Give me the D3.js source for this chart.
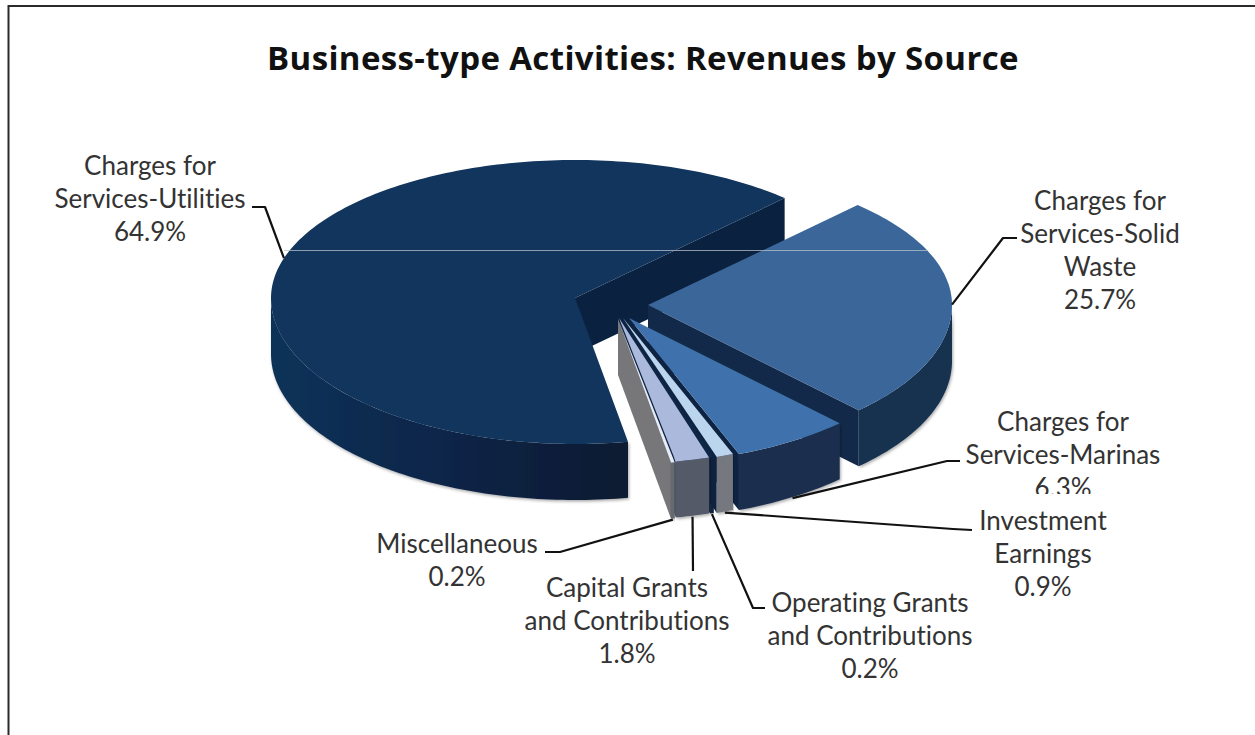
<!DOCTYPE html>
<html>
<head>
<meta charset="utf-8">
<script src="https://cdn.jsdelivr.net/npm/d3@7/dist/d3.min.js"></script>
<style>
  html, body { margin: 0; padding: 0; background: #fff; overflow: hidden; }
  svg { display: block; }
  text { font-family: Lato, "Open Sans", sans-serif; font-variant-ligatures: none; }
</style>
</head>
<body>
<svg id="chart" width="1255" height="735"></svg>
<script>
// Revenue shares, in drawing order, clockwise from the Solid Waste slice
const categories = [
  "Charges for Services-Solid Waste",
  "Charges for Services-Marinas",
  "Investment Earnings",
  "Operating Grants and Contributions",
  "Capital Grants and Contributions",
  "Miscellaneous",
  "Charges for Services-Utilities"
];
const shares = [25.7, 6.3, 0.9, 0.2, 1.8, 0.2, 64.9];
const labelLines = [
  ["Charges for", "Services-Solid", "Waste"],
  ["Charges for", "Services-Marinas"],
  ["Investment", "Earnings"],
  ["Operating Grants", "and Contributions"],
  ["Capital Grants", "and Contributions"],
  ["Miscellaneous"],
  ["Charges for", "Services-Utilities"]
];
const chartTitle = "Business-type Activities: Revenues by Source";

// Per-slice styling
const topColors  = ["#3b6699", "#3f72ad", "#bcd5ee", "#0f2747", "#aab9dc", "#e6ebf4", "#11355c"];
const wallColors = ["#14304f", "#1a2f4e", "#74797f", "#10213c", "#555a68", "#666a70", "url(#utilWall)"];
const cutColors  = ["#12294a", "#0e2342", "#0e2342", "#0e2342", "#0e2342", "#77777a", "#0b2140"];

// Pull-out of each slice from the shared centre, in pixels
const pull = [[30, -17], [11, -4], [5, -4], [2, -4], [1, -4], [0, -3], [-43, -24]];

// Label placement: centre x, first baseline, leader elbow, leader start, whether leader lands on the wall foot
const labelBoxes = [
  {x: 1100, y: 210, lead: [[1017, 238], [1003, 238]], foot: false},
  {x: 1063, y: 431, lead: [[960, 461], [947, 461]], foot: true},
  {x: 1043, y: 530, lead: [[972, 530], [953, 529]], foot: true},
  {x: 870,  y: 612, lead: [[765, 608], [753, 608]], foot: true},
  {x: 627,  y: 597, lead: [[693, 571]], foot: true},
  {x: 457,  y: 553, lead: [[545, 552], [560, 552]], foot: true},
  {x: 150,  y: 175, lead: [[252, 207], [265, 207]], foot: false}
];

const W = 1255, H = 735;
const cx = 618, cy = 322;       // shared pie centre
const rx = 304;                 // horizontal radius of the tilted disc
const ryBack = 138, ryFront = 146; // the near half reads slightly deeper
const depth = 56;               // extruded height of the disc
const lineStep = 33;            // label leading

const svg = d3.select("#chart");
const defs = svg.append("defs");

const grad = defs.append("linearGradient")
  .attr("id", "utilWall").attr("gradientUnits", "userSpaceOnUse")
  .attr("x1", 271).attr("x2", 630).attr("y1", 0).attr("y2", 0);
[[0, "#103259"], [0.4, "#0d274b"], [0.75, "#0b1f3c"], [1, "#0c1a30"]].forEach(([o, c]) =>
  grad.append("stop").attr("offset", o).attr("stop-color", c));

const soft = defs.append("filter").attr("id", "wallShadow")
  .attr("x", "-5%").attr("y", "-5%").attr("width", "110%").attr("height", "115%");
soft.append("feDropShadow").attr("dx", 1).attr("dy", 1.5)
  .attr("stdDeviation", 1.8).attr("flood-color", "#000").attr("flood-opacity", 0.35);

// Clip for the Marinas percentage, whose lower edge is cut by the next label's box
defs.append("clipPath").attr("id", "marinaClip")
  .append("rect").attr("x", 0).attr("y", 0).attr("width", W).attr("height", 494);

svg.append("rect").attr("width", W).attr("height", H).attr("fill", "#fff");

// Page frame: top and left rules
svg.append("path")
  .attr("d", d3.line()([[8.5, H], [8.5, 6], [W, 6]]))
  .attr("fill", "none").attr("stroke", "#2a2a2a").attr("stroke-width", 2);

svg.append("text")
  .attr("x", 643).attr("y", 70).attr("text-anchor", "middle")
  .attr("font-size", 33).attr("font-weight", 700).attr("fill", "#111")
  .style("font-family", '"Open Sans", Lato, sans-serif')
  .attr("letter-spacing", 0.37)
  .text(chartTitle);

// d3.pie angles run clockwise from 12 o'clock; the Solid Waste edge sits at 43.6 degrees
const startDeg = 43.6;
const arcs = d3.pie().sort(null).value(d => d)
  .startAngle(startDeg * Math.PI / 180)
  .endAngle((startDeg + 360) * Math.PI / 180)(shares);

const toScreen = a => a - Math.PI / 2;
function project(theta, i, drop = 0) {
  const ry = Math.sin(theta) > 0 ? ryFront : ryBack;
  return [
    cx + pull[i][0] + rx * Math.cos(theta),
    cy + pull[i][1] + ry * Math.sin(theta) + drop
  ];
}
function apex(i, drop = 0) {
  return [cx + pull[i][0], cy + pull[i][1] + drop];
}
function rimAngles(t0, t1) {
  const n = Math.max(2, Math.ceil((t1 - t0) / 0.02));
  return d3.range(n + 1).map(k => t0 + (t1 - t0) * k / n);
}
const path = d3.line().curve(d3.curveLinear);

const pieGroup = svg.append("g");

// Draw back to front: end-edge cut face, outer wall, then the top surface
arcs.map((d, i) => i).sort((a, b) => (a === 6 ? -1 : b === 6 ? 1 : a - b)).forEach(i => {
  const t0 = toScreen(arcs[i].startAngle), t1 = toScreen(arcs[i].endAngle);
  const g = pieGroup.append("g").attr("class", "slice");

  g.append("path")
    .attr("d", path([apex(i), project(t1, i), project(t1, i, depth), apex(i, depth)]) + "Z")
    .attr("fill", cutColors[i]);

  // Only the near half of the rim shows a wall
  const turn = Math.floor(t0 / (2 * Math.PI)) * 2 * Math.PI;
  const frontA = Math.max(t0, turn);
  const frontB = Math.min(t1, turn + Math.PI);
  let wallA = frontA, wallB = frontB;
  if (wallB <= wallA) {
    wallA = Math.max(t0, turn + 2 * Math.PI);
    wallB = Math.min(t1, turn + 3 * Math.PI);
  }
  if (wallB > wallA) {
    const angles = rimAngles(wallA, wallB);
    const upper = angles.map(t => project(t, i));
    const lower = angles.map(t => project(t, i, depth)).reverse();
    g.append("path").attr("d", path(upper.concat(lower)) + "Z")
      .attr("fill", wallColors[i]).attr("filter", "url(#wallShadow)");
  }

  const rim = rimAngles(t0, t1).map(t => project(t, i));
  g.append("path").attr("d", path([apex(i)].concat(rim)) + "Z")
    .attr("fill", topColors[i]);
});

// Faint scan seam crossing the disc
svg.append("line")
  .attr("x1", 284).attr("x2", 928).attr("y1", 250.5).attr("y2", 250.5)
  .attr("stroke", "#b9c2cc").attr("stroke-width", 1).attr("opacity", 0.75);

// Leader lines run from each label to the rim at its slice's mid angle
arcs.forEach((d, i) => {
  const mid = toScreen((d.startAngle + d.endAngle) / 2);
  const anchor = project(mid, i, labelBoxes[i].foot ? depth + 1 : 0);
  svg.append("path")
    .attr("d", path(labelBoxes[i].lead.concat([anchor])))
    .attr("fill", "none").attr("stroke", "#111").attr("stroke-width", 2.2)
    .attr("stroke-linejoin", "round");
});

// Category labels with their percentages
const pct = d3.format(".1f");
arcs.forEach((d, i) => {
  const lines = labelLines[i].concat([pct(shares[i]) + "%"]);
  const box = labelBoxes[i];
  const label = svg.append("g").attr("class", "slice-label").attr("data-category", categories[i]);
  if (i === 1) label.attr("clip-path", "url(#marinaClip)");
  label.selectAll("text").data(lines).join("text")
    .attr("x", box.x)
    .attr("y", (t, k) => box.y + k * lineStep)
    .attr("text-anchor", "middle")
    .attr("font-size", 26)
    .attr("fill", "#333")
    .text(t => t);
});
</script>
</body>
</html>
